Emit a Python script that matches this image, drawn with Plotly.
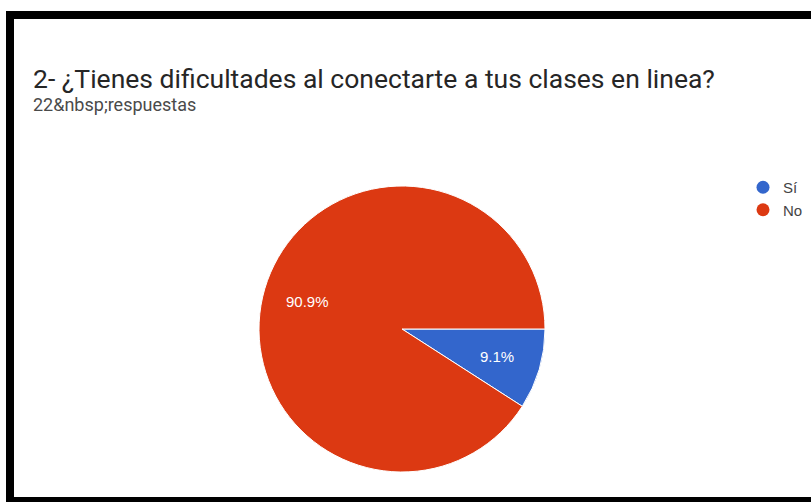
import math
import plotly.graph_objects as go

# Survey answers
labels = ["Sí", "No"]
values = [2, 20]
colors = ["#3366CC", "#DC3912"]

title_text = "2- ¿Tienes dificultades al conectarte a tus clases en linea?"
subtitle_text = "22&amp;nbsp;respuestas"  # literal "&nbsp;" as shown on the form

W, H = 811, 502


def px(x):
    return x / W


def py(y):
    return 1 - y / H


# Pie placement (pixels): left/right/top/bottom of the disc
PIE_L, PIE_R, PIE_T, PIE_B = 259, 545, 186, 472
cx_px, cy_px = (PIE_L + PIE_R) / 2, (PIE_T + PIE_B) / 2
radius_px = (PIE_R - PIE_L) / 2
LABEL_RADIUS = 0.69  # fraction of the radius where percentages sit

fig = go.Figure()

fig.add_trace(go.Pie(
    labels=labels,
    values=values,
    sort=False,
    direction="clockwise",
    rotation=90,
    marker=dict(colors=colors, line=dict(color="white", width=1)),
    textinfo="none",
    hoverinfo="label+value+percent",
    showlegend=False,
    domain=dict(x=[px(PIE_L), px(PIE_R)], y=[py(PIE_B), py(PIE_T)]),
))

# Percentage labels placed at each slice's mid-angle (clockwise from 3 o'clock)
total = sum(values)
annotations = []
start = 0.0
for v in values:
    frac = v / total
    mid = (start + frac / 2) * 2 * math.pi
    start += frac
    lx = cx_px + math.cos(mid) * radius_px * LABEL_RADIUS
    ly = cy_px + math.sin(mid) * radius_px * LABEL_RADIUS
    annotations.append(dict(
        text=f"{frac * 100:.1f}%", x=px(lx), y=py(ly), xref="paper", yref="paper",
        xanchor="center", yanchor="middle", showarrow=False,
        font=dict(size=15, color="white", family="Liberation Sans, Arial, sans-serif"),
    ))

# Round legend markers
for lab, col in zip(labels, colors):
    fig.add_trace(go.Scatter(
        x=[None], y=[None], mode="markers", name=lab,
        marker=dict(symbol="circle", size=13, color=col),
        showlegend=True,
    ))

annotations += [
    dict(text=title_text, x=px(31), y=py(79), xref="paper", yref="paper",
         xanchor="left", yanchor="middle", showarrow=False,
         font=dict(size=26.5, color="#262626", family="Roboto, sans-serif")),
    dict(text=subtitle_text, x=px(31), y=py(104), xref="paper", yref="paper",
         xanchor="left", yanchor="middle", showarrow=False,
         font=dict(size=18, color="#4a4a4a", family="Roboto, sans-serif")),
]

fig.update_layout(
    width=W, height=H,
    margin=dict(l=0, r=0, t=0, b=0),
    paper_bgcolor="white",
    plot_bgcolor="white",
    xaxis=dict(visible=False),
    yaxis=dict(visible=False),
    showlegend=True,
    legend=dict(
        x=px(743), y=py(171), xanchor="left", yanchor="top",
        font=dict(size=15, color="#444444", family="Liberation Sans, Arial, sans-serif"),
        bgcolor="rgba(0,0,0,0)",
        itemwidth=30,
        tracegroupgap=0,
    ),
    annotations=annotations,
    shapes=[
        # frame around the card
        dict(type="rect", xref="paper", yref="paper", x0=px(6), x1=1, y0=py(19), y1=py(11),
             fillcolor="black", line=dict(width=0), layer="above"),
        dict(type="rect", xref="paper", yref="paper", x0=px(6), x1=px(14), y0=0, y1=py(11),
             fillcolor="black", line=dict(width=0), layer="above"),
        dict(type="rect", xref="paper", yref="paper", x0=px(6), x1=1, y0=0, y1=py(497),
             fillcolor="black", line=dict(width=0), layer="above"),
    ],
)

fig.write_html("out.html")
